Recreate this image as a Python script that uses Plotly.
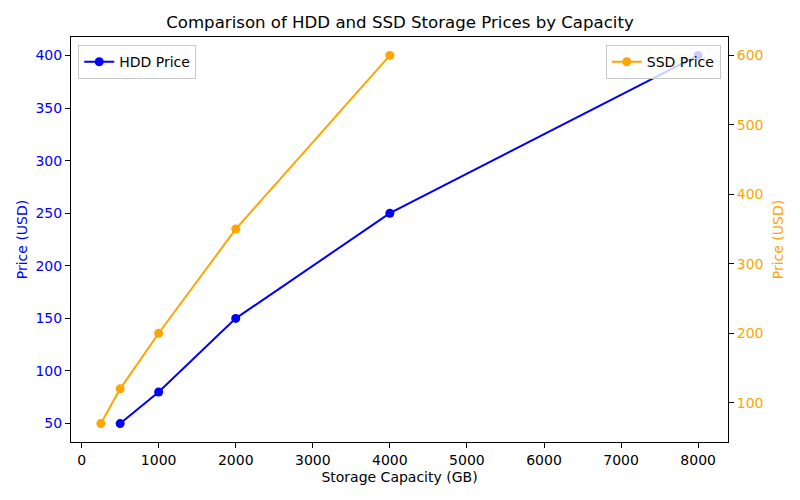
import plotly.graph_objects as go

# Storage price data
hdd_capacity = [500, 1000, 2000, 4000, 8000]
hdd_price = [50, 80, 150, 250, 400]
ssd_capacity = [250, 500, 1000, 2000, 4000]
ssd_price = [70, 120, 200, 350, 600]

x_ticks = [0, 1000, 2000, 3000, 4000, 5000, 6000, 7000, 8000]
hdd_ticks = [50, 100, 150, 200, 250, 300, 350, 400]
ssd_ticks = [100, 200, 300, 400, 500, 600]

FONT = "DejaVu Sans"

fig = go.Figure()

fig.add_trace(go.Scatter(
    x=hdd_capacity, y=hdd_price, name="HDD Price",
    mode="lines+markers",
    line=dict(color="blue", width=2),
    marker=dict(color="blue", size=9),
    legend="legend", showlegend=True,
))

fig.add_trace(go.Scatter(
    x=ssd_capacity, y=ssd_price, name="SSD Price",
    mode="lines+markers",
    line=dict(color="orange", width=2),
    marker=dict(color="orange", size=9),
    yaxis="y2",
    legend="legend2", showlegend=True,
))

axis_common = dict(
    showgrid=False, zeroline=False, showline=True, linecolor="black",
    linewidth=1, ticks="outside", ticklen=5, tickcolor="black",
    automargin=False,
)

fig.update_layout(
    width=800, height=500,
    showlegend=True,
    plot_bgcolor="white", paper_bgcolor="white",
    font=dict(family=FONT, size=14, color="black"),
    margin=dict(l=71, r=72, t=37, b=58),
    title=dict(
        text="Comparison of HDD and SSD Storage Prices by Capacity",
        x=0.5, xanchor="center", y=0.955, yanchor="middle",
        font=dict(size=16.6, color="black"),
    ),
    xaxis=dict(
        **axis_common, mirror=True,
        range=[-137.5, 8387.5], tickvals=x_ticks,
        tickfont=dict(size=14),
        title=dict(text="Storage Capacity (GB)", font=dict(size=14), standoff=5),
    ),
    yaxis=dict(
        **axis_common,
        range=[32.5, 417.5], tickvals=hdd_ticks,
        tickfont=dict(size=14, color="blue"),
        title=dict(text="Price (USD)", font=dict(size=14, color="blue"), standoff=4),
    ),
    yaxis2=dict(
        **axis_common,
        overlaying="y", side="right",
        range=[43.5, 626.5], tickvals=ssd_ticks,
        tickfont=dict(size=14, color="orange"),
        title=dict(text="Price (USD)", font=dict(size=14, color="orange"), standoff=10),
    ),
    legend=dict(
        x=0.011, y=0.98, xanchor="left", yanchor="top",
        bgcolor="rgba(255,255,255,0.8)", bordercolor="#cccccc", borderwidth=1,
        font=dict(size=14),
    ),
    legend2=dict(
        x=0.989, y=0.98, xanchor="right", yanchor="top",
        bgcolor="rgba(255,255,255,0.8)", bordercolor="#cccccc", borderwidth=1,
        font=dict(size=14),
    ),
)

# drop the default page margin so the figure sits at the window's corner
fig.write_html(
    "out.html",
    config={"displayModeBar": False},
    post_script="document.body.style.margin='0';",
)
